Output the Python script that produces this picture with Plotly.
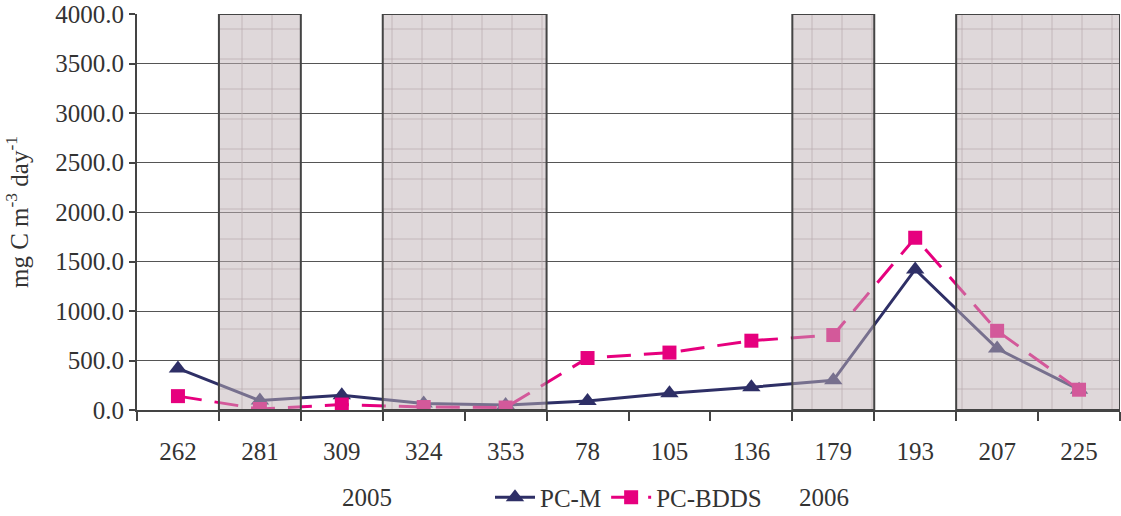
import plotly.graph_objects as go

# Sampling days (day of year), 2005 then 2006
days = ["262", "281", "309", "324", "353", "78", "105", "136", "179", "193", "207", "225"]

# Production rates, mg C m^-3 day^-1
pc_m = [420, 95, 150, 65, 50, 90, 170, 230, 300, 1420, 620, 205]
pc_bdds = [140, 10, 55, 30, 25, 525, 580, 700, 757, 1740, 800, 205]

# Sampling days falling in shaded periods, grouped into contiguous blocks
shaded_blocks = [["281"], ["324", "353"], ["179"], ["207", "225"]]

y_max = 4000
y_ticks = [0, 500, 1000, 1500, 2000, 2500, 3000, 3500, 4000]

NAVY = "#2e2f66"
PINK = "#e6007e"
TEXT = "#333333"
FONT = "Liberation Serif, Times New Roman, serif"
FS = 25

fig = go.Figure()

# Fine grid texture inside the shaded periods
shaded_days = [d for block in shaded_blocks for d in block]
fig.add_trace(go.Bar(
    x=days,
    y=[y_max if d in shaded_days else None for d in days],
    width=1.0,
    marker=dict(
        color="rgba(0,0,0,0)",
        line=dict(width=0),
        pattern=dict(shape="+", size=30, solidity=0.05,
                     fgcolor="#b3a6a9", fgopacity=1,
                     bgcolor="rgba(0,0,0,0)", fillmode="replace"),
    ),
    showlegend=False,
    hoverinfo="skip",
))

fig.add_trace(go.Scatter(
    x=days, y=pc_m, name="PC-M", mode="lines+markers",
    line=dict(color=NAVY, width=3),
    marker=dict(symbol="triangle-up", size=16, color=NAVY),
))
fig.add_trace(go.Scatter(
    x=days, y=pc_bdds, name="PC-BDDS", mode="lines+markers",
    line=dict(color=PINK, width=3, dash="24px,13px"),
    marker=dict(symbol="square", size=14, color=PINK),
))

# Translucent shading with a dark frame around each block
for block in shaded_blocks:
    i0 = days.index(block[0])
    i1 = days.index(block[-1])
    fig.add_shape(
        type="rect", xref="x", yref="y",
        x0=i0 - 0.5, x1=i1 + 0.5, y0=0, y1=y_max,
        fillcolor="rgba(192,178,181,0.5)",
        line=dict(color="#444444", width=2),
        layer="above",
    )

for label, xpos in [("2005", 0.2065), ("2006", 0.726)]:
    fig.add_annotation(text=label, xref="paper", yref="paper", x=xpos, y=-0.22,
                       showarrow=False, font=dict(size=FS, color=TEXT, family=FONT),
                       yanchor="middle")

fig.update_layout(
    width=1121, height=516,
    margin=dict(l=137, r=1, t=14, b=106),
    paper_bgcolor="white", plot_bgcolor="white",
    font=dict(family=FONT, size=FS, color=TEXT),
    bargap=0,
    legend=dict(orientation="h", x=0.5, xanchor="center",
                yref="container", y=0.036, yanchor="middle",
                font=dict(size=FS, color=TEXT, family=FONT),
                bgcolor="rgba(0,0,0,0)", itemwidth=40, tracegroupgap=0),
    xaxis=dict(
        type="category", categoryorder="array", categoryarray=days,
        range=[-0.5, len(days) - 0.5],
        tickson="boundaries", ticks="outside", ticklen=9, tickwidth=1.5,
        tickcolor="#444444", ticklabelstandoff=18,
        showline=True, linecolor="#444444", linewidth=2,
        showgrid=False, zeroline=False,
        tickfont=dict(size=FS, color=TEXT, family=FONT),
    ),
    yaxis=dict(
        range=[0, y_max], tickvals=y_ticks,
        ticktext=[f"{v:.1f}" for v in y_ticks],
        ticks="outside", ticklen=6, tickwidth=1.5, tickcolor="#444444",
        showline=True, linecolor="#444444", linewidth=2,
        showgrid=True, gridcolor="#555555", gridwidth=1.3,
        zeroline=False,
        tickfont=dict(size=FS, color=TEXT, family=FONT),
        title=dict(text="mg C m<sup>-3</sup> day<sup>-1</sup>",
                   font=dict(size=FS, color=TEXT, family=FONT), standoff=20),
    ),
)

fig.write_html("out.html")
